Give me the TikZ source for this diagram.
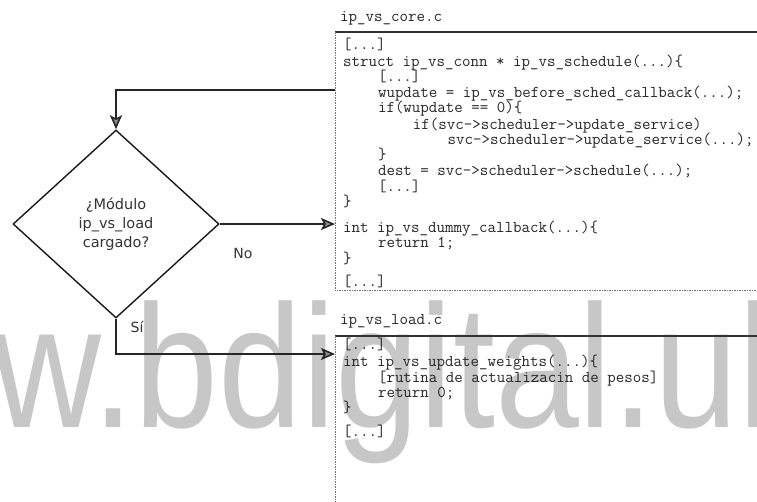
\documentclass[tikz,border=0pt]{standalone}
\usepackage{fontspec}
\setmainfont{DejaVu Sans}
\newfontfamily\wmfont{Liberation Sans}
\usetikzlibrary{shapes.geometric,arrows.meta}

\tikzset{
  code/.style={anchor=base west, inner sep=0pt, text=black!85,
    font=\ttfamily\fontsize{16.5}{15.5}\selectfont},
  filebox/.style={inner sep=0pt, anchor=north west},
  topedge/.style={draw=black!80, line width=1.2pt},
  sideedge/.style={draw=black!55, line width=0.8pt, dash pattern=on 1.5pt off 1pt},
  decision/.style={diamond, draw=black!90, line width=1.4pt, inner sep=0pt,
    minimum width=206pt, minimum height=188pt, align=center, text=black!80,
    font=\fontsize{14.5}{19}\selectfont},
  flow/.style={draw=black!85, line width=1.6pt,
    -{Stealth[length=14pt, width=12pt, inset=3pt, fill=black!45]}},
  lbl/.style={inner sep=0pt, text=black!80, font=\fontsize{14}{16}\selectfont},
  watermark/.style={anchor=base west, inner sep=0pt, text=black!22}
}

\begin{document}
\begin{tikzpicture}[x=1pt, y=-1pt]
\useasboundingbox (0,0) rectangle (757,501);

% background watermark, clipped to the page
\begin{scope}
  \clip (0,0) rectangle (757,501);
  \node[watermark] (wm) at (-226,427)
    {\scalebox{0.862}[1]{\wmfont\fontsize{175}{175}\selectfont www.bdigital.ula.ve}};
\end{scope}

% ---------- file boxes ----------
\node[filebox, minimum width=430pt, minimum height=258pt] (core) at (335,32) {};
\node[filebox, minimum width=430pt, minimum height=175pt] (load) at (335,336) {};

\draw[topedge] (core.north west) -- (core.north east);
\draw[sideedge] (core.north west) -- (core.south west) -- (core.south east);
\draw[topedge] (load.north west) -- (load.north east);
\draw[sideedge] (load.north west) -- (load.south west);

% file names
\node[code] (tcore) at (340,21.5) {ip\_vs\_core.c};
\node[code] (tload) at (340,324.5) {ip\_vs\_load.c};

% ---------- ip_vs_core.c ----------
\node[code] (c1)  at (343,49.5)  {[...]};
\node[code] (c2)  at (343,66.5)  {struct ip\_vs\_conn * ip\_vs\_schedule(...)\{};
\node[code] (c3)  at (377.8,81.5)  {[...]};
\node[code] (c4)  at (377.8,97.5)  {wupdate = ip\_vs\_before\_sched\_callback(...);};
\node[code] (c5)  at (377.8,112.5) {if(wupdate == 0)\{};
\node[code] (c6)  at (412.6,129.5) {if(svc->scheduler->update\_service)};
\node[code] (c7)  at (447.4,144.5) {svc->scheduler->update\_service(...);};
\node[code] (c8)  at (377.8,159.5) {\}};
\node[code] (c9)  at (377.8,175.5) {dest = svc->scheduler->schedule(...);};
\node[code] (c10) at (377.8,191.5) {[...]};
\node[code] (c11) at (343,206.5) {\}};
\node[code] (c12) at (343,232.5) {int ip\_vs\_dummy\_callback(...)\{};
\node[code] (c13) at (377.8,247.5) {return 1;};
\node[code] (c14) at (343,263.5) {\}};
\node[code] (c15) at (343,286.5) {[...]};

% ---------- ip_vs_load.c ----------
\node[code] (l1) at (343,349.5) {[...]};
\node[code] (l2) at (343,366.5) {int ip\_vs\_update\_weights(...)\{};
\node[code] (l3) at (377.8,382.5) {[rutina de actualizacin de pesos]};
\node[code] (l4) at (377.8,397.5) {return 0;};
\node[code] (l5) at (343,412.5) {\}};
\node[code] (l6) at (343,436.5) {[...]};

% ---------- decision ----------
\node[decision] (dec) at (116,224) {¿Módulo\\ip\_vs\_load\\cargado?};

\coordinate (loop) at (335,90);
\coordinate (siy) at (0,354);

\draw[flow] (loop) -| (dec.north);
\draw[flow] (dec.east) -- (dec.east -| core.west);
\draw[flow] (dec.south) |- (siy -| load.west);

\node[lbl] (no) at (243,253) {No};
\node[lbl] (si) at (137,327) {Sí};
\end{tikzpicture}
\end{document}
